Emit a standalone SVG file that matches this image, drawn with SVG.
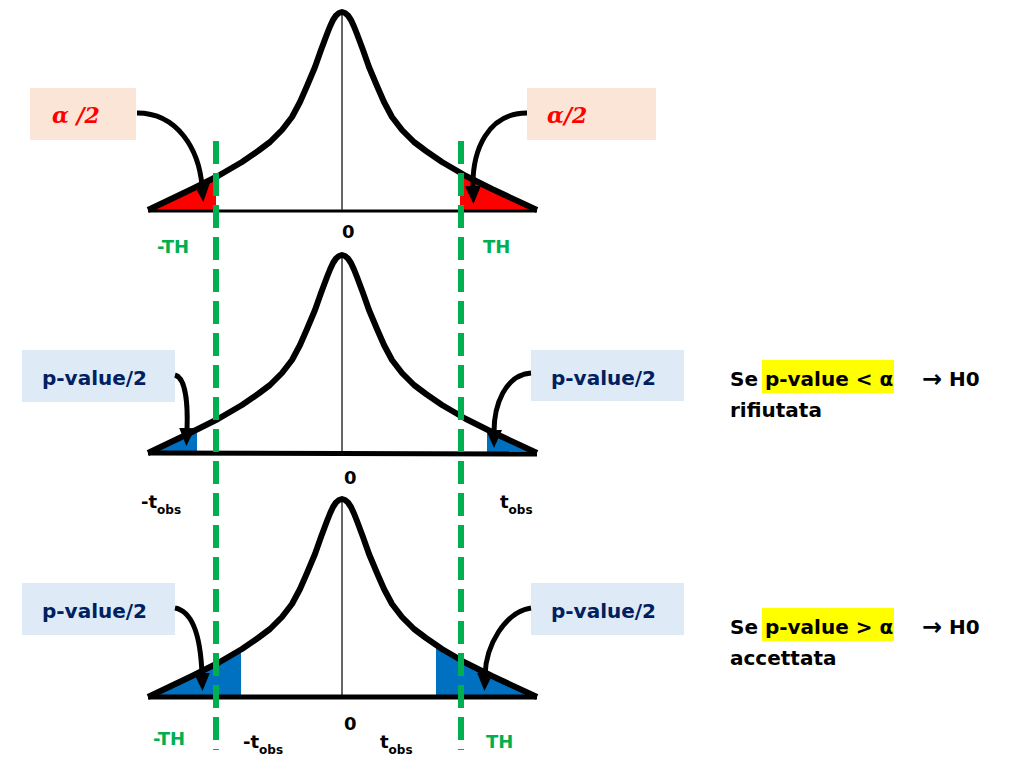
<svg xmlns="http://www.w3.org/2000/svg" width="1010" height="759" viewBox="0 0 1010 759">
<style>
.curve{fill:none;stroke:#000;stroke-width:6;stroke-linejoin:round;stroke-linecap:butt}
.axis{stroke:#000;stroke-width:5}
.axisthin{stroke:#000;stroke-width:3}
.mid{stroke:#333;stroke-width:1.5}
.th{stroke:#00B050;stroke-width:6;stroke-dasharray:23 9}
.red{fill:#FF0000}
.blue{fill:#0070C0}
.conn{fill:none;stroke:#000;stroke-width:5}
.t{font-family:"DejaVu Sans",sans-serif;font-weight:bold}
.alpha{font-family:"DejaVu Serif","Liberation Serif",serif;font-weight:bold;font-style:italic;fill:#FF0000;font-size:22px}
.pv{fill:#002060;font-size:20px}
.g{fill:#00B050;font-size:18px}
.k{fill:#000;font-size:18px}
.sub{font-size:12px}
.rt{fill:#000;font-size:20px}
.arr{font-size:24px}
</style>
<defs>
<path id="bell" d="M148,210 L192,189 L218,176 L242,162 L258,151 L270,142 L282,130 L292,117 L300,102 L307,86 L315,67 L321,50 L327,34 L330,26.5 L333,20 L336,15.5 L339,13 L342,12 L345,13 L348,15.5 L351,20 L354,26.5 L357,34 L363,50 L369,67 L377,86 L384,102 L392,117 L402,130 L414,142 L426,151 L442,162 L466,176 L492,189 L537,210"/>
<marker id="ah" markerUnits="userSpaceOnUse" markerWidth="18" markerHeight="16" refX="2" refY="8" orient="auto" viewBox="0 0 18 16">
<path d="M0,0 L18,8 L0,16 Z" fill="#000"/>
</marker>
</defs>

<g id="curve1">
<path class="red" d="M148,210 L192,189 L216,177 L216,210 Z"/>
<path class="red" d="M460,210 L460,172.5 L466,176 L492,189 L537,210 Z"/>
<line class="axisthin" x1="148" y1="211" x2="537" y2="211"/>
<line class="mid" x1="342" y1="14" x2="342" y2="210"/>
<use href="#bell" class="curve"/>
<text class="t k" x="342" y="238">0</text>
<text class="t g" x="157" y="253">-TH</text>
<text class="t g" x="483" y="253">TH</text>
</g>

<g id="curve2">
<path class="blue" d="M148,453 L192,432 L197,429.5 L197,453 Z"/>
<path class="blue" d="M487,453 L487,429.5 L492,432 L537,453 Z"/>
<line class="mid" x1="342" y1="257" x2="342" y2="453"/>
<use href="#bell" class="curve" transform="translate(0,243)"/>
<line class="axis" x1="148" y1="453" x2="537" y2="454"/>
<text class="t k" x="344" y="484">0</text>
<text class="t k" x="141" y="508">-t<tspan class="sub" dy="6">obs</tspan></text>
<text class="t k" x="500" y="508">t<tspan class="sub" dy="6">obs</tspan></text>
</g>

<g id="curve3">
<path class="blue" d="M148,697 L192,676 L218,663 L241,649.6 L241,697 Z"/>
<path class="blue" d="M436,697 L436,645 L442,649 L466,663 L492,676 L537,697 Z"/>
<line class="mid" x1="342" y1="501" x2="342" y2="697"/>
<use href="#bell" class="curve" transform="translate(0,487)"/>
<line class="axis" x1="148" y1="697" x2="537" y2="697"/>
<text class="t k" x="344" y="730">0</text>
<text class="t g" x="153" y="745">-TH</text>
<text class="t k" x="243" y="748">-t<tspan class="sub" dy="6">obs</tspan></text>
<text class="t k" x="380" y="748">t<tspan class="sub" dy="6">obs</tspan></text>
<text class="t g" x="486" y="748">TH</text>
</g>

<g id="threshold-lines">
<line class="th" x1="216" y1="141" x2="216" y2="750"/>
<line class="th" x1="461" y1="141" x2="461" y2="750"/>
</g>

<g id="label-alpha-left">
<rect x="30" y="88" width="106" height="52" fill="#FBE5D6"/>
<text class="alpha" x="52" y="123">α /2</text>
</g>
<g id="label-alpha-right">
<rect x="527" y="88" width="129" height="52" fill="#FBE5D6"/>
<text class="alpha" x="547" y="123">α/2</text>
</g>
<g id="label-pv-2l">
<rect x="22" y="350" width="153" height="52" fill="#DEEBF7"/>
<text class="t pv" x="42" y="385">p-value/2</text>
</g>
<g id="label-pv-2r">
<rect x="531" y="350" width="153" height="51" fill="#DEEBF7"/>
<text class="t pv" x="551" y="385">p-value/2</text>
</g>
<g id="label-pv-3l">
<rect x="22" y="583" width="153" height="52" fill="#DEEBF7"/>
<text class="t pv" x="42" y="618">p-value/2</text>
</g>
<g id="label-pv-3r">
<rect x="531" y="583" width="153" height="52" fill="#DEEBF7"/>
<text class="t pv" x="551" y="618">p-value/2</text>
</g>

<g id="connectors">
<path class="conn" marker-end="url(#ah)" d="M137,113 C178,113 199,150 202,186"/>
<path class="conn" marker-end="url(#ah)" d="M527,113 C488,113 472,150 473,188"/>
<path class="conn" marker-end="url(#ah)" d="M175,375 C186,378 188,405 187,430"/>
<path class="conn" marker-end="url(#ah)" d="M531,373 C505,375 494,405 494,432"/>
<path class="conn" marker-end="url(#ah)" d="M175,608 C196,612 201,645 202,675"/>
<path class="conn" marker-end="url(#ah)" d="M531,608 C505,612 486,645 485,675"/>
</g>

<g id="rule-reject">
<rect x="762" y="360" width="132" height="33" fill="#FFFF00"/>
<text class="t rt" x="730" y="386">Se p-value &lt; α</text>
<text class="t rt" x="922" y="386"><tspan class="arr" dy="1">→</tspan><tspan dy="-1"> H0</tspan></text>
<text class="t rt" x="730" y="417">rifiutata</text>
</g>
<g id="rule-accept">
<rect x="762" y="608" width="132" height="33" fill="#FFFF00"/>
<text class="t rt" x="730" y="634">Se p-value &gt; α</text>
<text class="t rt" x="922" y="634"><tspan class="arr" dy="1">→</tspan><tspan dy="-1"> H0</tspan></text>
<text class="t rt" x="730" y="665">accettata</text>
</g>
</svg>
